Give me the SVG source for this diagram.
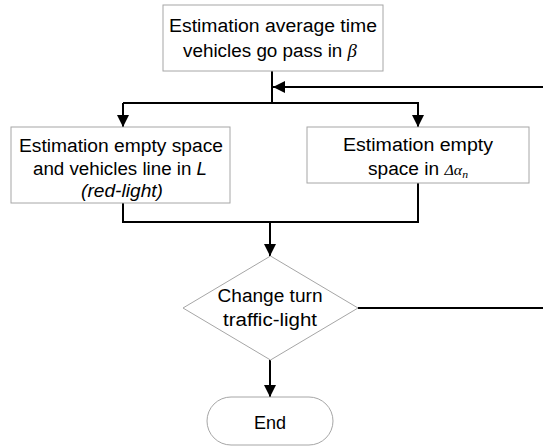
<svg xmlns="http://www.w3.org/2000/svg" width="543" height="447" viewBox="0 0 543 447">
<style>
.box{fill:#fff;stroke:#a6a6a6;stroke-width:1}
.t{font-family:"Liberation Sans",Arial,sans-serif;font-size:18px;fill:#000;text-anchor:middle}
.g{font-family:"Liberation Serif","Times New Roman",serif;font-style:italic}
.i{font-style:italic}
.c{fill:none;stroke:#000;stroke-width:2}
</style>
<defs>
<marker id="ah" markerUnits="userSpaceOnUse" markerWidth="14" markerHeight="12" refX="12" refY="6" orient="auto">
<path d="M0,0 L12,6 L0,12 Z" fill="#000"/>
</marker>
</defs>
<g id="connectors">
<path class="c" d="M272,71 V103"/>
<path class="c" d="M123,103 H419"/>
<path class="c" d="M123,103 V127" marker-end="url(#ah)"/>
<path class="c" d="M418,103 V127" marker-end="url(#ah)"/>
<path class="c" d="M543,87 H273" marker-end="url(#ah)"/>
<path class="c" d="M123,203 V222 H418 V183"/>
<path class="c" d="M270,222 V256" marker-end="url(#ah)"/>
<path class="c" d="M358,308 H543"/>
<path class="c" d="M270,360 V397" marker-end="url(#ah)"/>
</g>
<g id="n1">
<rect class="box" x="163" y="5" width="220" height="66"/>
<text class="t" x="273" y="32" textLength="208" lengthAdjust="spacingAndGlyphs">Estimation average time</text>
<text class="t" x="270" y="57" textLength="174" lengthAdjust="spacingAndGlyphs">vehicles go pass in <tspan class="g">β</tspan></text>
</g>
<g id="n2">
<rect class="box" x="11" y="127" width="219" height="76"/>
<text class="t" x="121" y="152" textLength="204" lengthAdjust="spacingAndGlyphs">Estimation empty space</text>
<text class="t" x="120" y="175" textLength="174" lengthAdjust="spacingAndGlyphs">and vehicles line in <tspan class="i">L</tspan></text>
<text class="t i" x="122" y="197" textLength="82" lengthAdjust="spacingAndGlyphs">(red-light)</text>
</g>
<g id="n3">
<rect class="box" x="307" y="127" width="222" height="56"/>
<text class="t" x="418" y="151" textLength="150" lengthAdjust="spacingAndGlyphs">Estimation empty</text>
<text class="t" x="418" y="175" textLength="100" lengthAdjust="spacingAndGlyphs">space in <tspan class="g" font-size="15">Δα</tspan><tspan class="g" font-size="11" dy="3">n</tspan></text>
</g>
<g id="n4">
<path class="box" d="M270.5,256 L358,308 L270.5,360 L183,308 Z"/>
<text class="t" x="270" y="302" textLength="105" lengthAdjust="spacingAndGlyphs">Change turn</text>
<text class="t" x="270" y="326" textLength="94" lengthAdjust="spacingAndGlyphs">traffic-light</text>
</g>
<g id="n5">
<rect class="box" x="207" y="397" width="126" height="48" rx="24" ry="24"/>
<text class="t" x="270" y="429">End</text>
</g>
</svg>
